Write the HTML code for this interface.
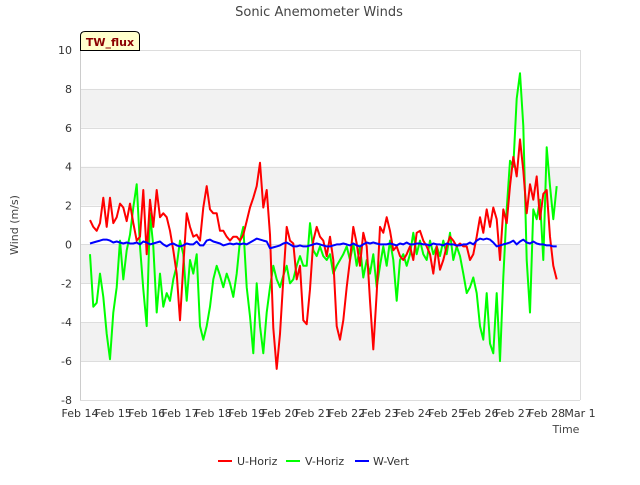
<!DOCTYPE html>
<html><head><meta charset="utf-8"><style>
body{margin:0;background:#fff;font-family:"Liberation Sans","DejaVu Sans",sans-serif;}
svg text{font-family:"DejaVu Sans","Liberation Sans",sans-serif;}
</style></head><body>
<svg id="chart" width="640" height="480" viewBox="0 0 640 480" xmlns="http://www.w3.org/2000/svg">
<text x="319" y="16" text-anchor="middle" font-size="13" fill="#444">Sonic Anemometer Winds</text>
<g id="bands"></g><g id="grid"></g>
<line x1="80.5" y1="50" x2="80.5" y2="400" stroke="#ccc"/>
<line x1="580.5" y1="50" x2="580.5" y2="400" stroke="#ddd"/>
<g id="yticks"></g><g id="xticks"></g>
<g id="series"></g>
<text transform="translate(18,225) rotate(-90)" text-anchor="middle" font-size="11" fill="#444">Wind (m/s)</text>
<text x="566" y="433" text-anchor="middle" font-size="11" fill="#444">Time</text>
<g>
<path d="M80.5,50.5 L80.5,36 Q80.5,31.5 85,31.5 L135,31.5 Q139.5,31.5 139.5,36 L139.5,50.5 Z" fill="#ffffcc" stroke="#000"/>
<text x="110" y="46" text-anchor="middle" font-size="11" font-weight="bold" fill="#8b0000">TW_flux</text>
</g>
<g>
<g><line x1="218" y1="461" x2="232" y2="461" stroke="#f00" stroke-width="2"/><text x="237" y="465" font-size="11" fill="#333">U-Horiz</text></g>
<g><line x1="286" y1="461" x2="300" y2="461" stroke="#0f0" stroke-width="2"/><text x="305" y="465" font-size="11" fill="#333">V-Horiz</text></g>
<g><line x1="355" y1="461" x2="369" y2="461" stroke="#00f" stroke-width="2"/><text x="373" y="465" font-size="11" fill="#333">W-Vert</text></g>
</g>
</svg>
<script>
const startDay = 14.3, stepDay = 0.1;
const xTickLabels = ["Feb 14","Feb 15","Feb 16","Feb 17","Feb 18","Feb 19","Feb 20","Feb 21","Feb 22","Feb 23","Feb 24","Feb 25","Feb 26","Feb 27","Feb 28","Mar 1"];
const yTicks = [-8,-6,-4,-2,0,2,4,6,8,10];
const uHoriz = [1.25,0.9,0.7,1.1,2.4,0.9,2.4,1.1,1.4,2.1,
1.9,1.2,2.1,1.1,0.2,0.4,2.8,-0.5,2.3,0.9,
2.8,1.4,1.6,1.4,0.7,-0.3,-1.5,-3.9,-1.1,1.6,
0.9,0.4,0.5,0.2,1.9,3.0,1.8,1.6,1.6,0.7,
0.7,0.4,0.2,0.4,0.4,0.2,0.5,1.2,1.9,2.4,
3.0,4.2,1.9,2.8,0.5,-4.3,-6.4,-4.6,-1.8,0.9,
0.2,0.05,-1.8,-1.1,-3.9,-4.1,-2.3,0.2,0.9,
0.4,0.2,-0.6,0.4,-0.8,-4.2,-4.9,-3.9,-2.2,-0.8,
0.9,0.05,-1.1,0.6,-0.1,-2.9,-5.4,-2.5,0.9,0.6,
1.4,0.7,-0.3,-0.1,-0.6,-0.8,-0.5,-0.1,-0.8,0.6,
0.7,0.2,-0.1,-0.5,-1.5,-0.1,-1.3,-0.8,-0.1,0.4,
0.2,-0.1,0.05,-0.1,-0.1,-0.8,-0.5,0.4,1.4,0.6,
1.8,0.9,1.9,1.3,-0.8,1.8,1.1,3.0,4.5,3.5,
5.4,3.8,1.6,3.1,2.3,3.5,1.3,2.6,2.8,0.4,-1.1,-1.8];
const vHoriz = [-0.5,-3.2,-3.0,-1.5,-2.7,-4.6,-5.9,-3.5,-2.2,0.2,
-1.8,-0.3,0.5,1.9,3.1,-0.1,-2.3,-4.2,1.6,-0.1,
-3.5,-1.5,-3.2,-2.5,-2.9,-1.8,-1.1,0.2,-0.5,-2.9,
-0.8,-1.5,-0.5,-4.2,-4.9,-4.2,-3.2,-1.8,-1.1,-1.6,
-2.2,-1.5,-2.0,-2.7,-1.5,0.2,0.9,-2.2,-3.7,-5.6,
-2.0,-4.2,-5.6,-3.5,-2.2,-1.1,-1.8,-2.2,-1.6,-1.1,
-2.0,-1.8,-1.1,-0.6,-1.1,-1.1,1.1,-0.3,-0.6,
-0.1,-0.6,-0.8,-0.5,-1.5,-1.1,-0.8,-0.5,-0.1,-0.8,
0.05,-1.1,-0.1,-1.7,-0.8,-1.5,-0.5,-2.2,-1.1,-0.1,
-1.1,0.2,-0.8,-2.9,-0.8,-0.5,-1.1,-0.5,0.6,-0.5,
0.2,-0.5,-0.8,0.2,-0.5,-0.1,-0.6,0.2,-0.5,0.6,
-0.8,-0.1,-0.6,-1.5,-2.5,-2.2,-1.7,-2.5,-4.2,-4.9,
-2.5,-5.1,-5.6,-2.5,-6.0,-1.7,1.8,4.3,4.0,7.5,
8.8,6.1,-0.8,-3.5,1.8,1.3,2.3,-0.8,5.0,3.0,1.3,3.0];
const wVert = [0.05,0.1,0.15,0.2,0.25,0.25,0.2,0.1,0.15,0.1,
0.05,0.1,0.05,0.05,0.1,0.0,0.15,0.1,0.0,0.05,
0.1,0.15,0.0,-0.1,0.0,0.05,-0.05,-0.1,-0.05,0.05,
0.0,0.0,0.15,-0.05,-0.05,0.2,0.25,0.15,0.1,0.05,
-0.05,0.0,0.05,0.0,0.05,0.0,0.05,0.0,0.1,0.2,
0.3,0.25,0.2,0.15,-0.2,-0.15,-0.1,-0.05,0.05,0.1,
0.0,-0.1,-0.1,-0.05,-0.1,-0.1,-0.05,0.0,0.05,
0.0,-0.05,-0.1,-0.1,-0.05,0.0,0.0,0.05,0.0,-0.05,
0.05,-0.05,-0.1,0.0,0.1,0.05,0.1,0.05,0.0,0.0,
0.0,0.05,0.0,-0.05,0.05,0.0,0.1,0.0,0.0,0.05,
0.05,0.0,0.0,-0.05,0.05,0.0,0.0,-0.05,0.05,0.0,
0.0,-0.05,-0.05,0.0,0.0,0.1,0.0,0.2,0.3,0.25,
0.3,0.25,0.1,-0.1,-0.05,0.0,0.05,0.1,0.2,0.0,
0.15,0.25,0.1,0.05,0.15,0.05,0.0,0.0,-0.05,-0.05,-0.1,-0.1];

const NS='http://www.w3.org/2000/svg';
const X0=80,X1=580,Y0=400,Y1=50,DMIN=14,DMAX=29,VMIN=-8,VMAX=10;
function xScale(d){return X0+(d-DMIN)/(DMAX-DMIN)*(X1-X0);}
function yScale(v){return Y0-(v-VMIN)/(VMAX-VMIN)*(Y0-Y1);}
function mk(tag,attrs,parent){const e=document.createElementNS(NS,tag);for(const k in attrs)e.setAttribute(k,attrs[k]);parent.appendChild(e);return e;}
const bands=document.getElementById('bands'),grid=document.getElementById('grid'),yt=document.getElementById('yticks'),xt=document.getElementById('xticks'),ser=document.getElementById('series');
for(let i=0;i<yTicks.length;i++){
  const v=yTicks[i];
  if(i<yTicks.length-1 && (v===-6||v===-2||v===2||v===6)){
    const r=mk('rect',{x:X0,y:yScale(yTicks[i+1]),width:X1-X0,height:yScale(v)-yScale(yTicks[i+1]),fill:'#f2f2f2'},bands);
    
    
  }
  const l=mk('line',{x1:X0,x2:X1,y1:Math.round(yScale(v))+0.5,y2:Math.round(yScale(v))+0.5,stroke:'#ddd'},grid);
  
  
  const t=mk('text',{x:72,y:yScale(v)+4,'text-anchor':'end','font-size':'11',fill:'#333'},yt);
  t.textContent=v;
  
  
}
for(let i=0;i<xTickLabels.length;i++){
  const t=mk('text',{x:xScale(DMIN+i),y:417,'text-anchor':'middle','font-size':'11',fill:'#333'},xt);
  t.textContent=xTickLabels[i];
  
  
}
function drawSeries(vals,color,name){
  const pts=vals.map((v,i)=>xScale(startDay+i*stepDay).toFixed(1)+','+yScale(v).toFixed(1)).join(' ');
  const p=mk('polyline',{points:pts,fill:'none',stroke:color,'stroke-width':2,'stroke-linejoin':'round'},ser);
  
  
}
drawSeries(vHoriz,'#00ff00','v-horiz-line');
drawSeries(uHoriz,'#ff0000','u-horiz-line');
drawSeries(wVert,'#0000ff','w-vert-line');
</script>
</body></html>
